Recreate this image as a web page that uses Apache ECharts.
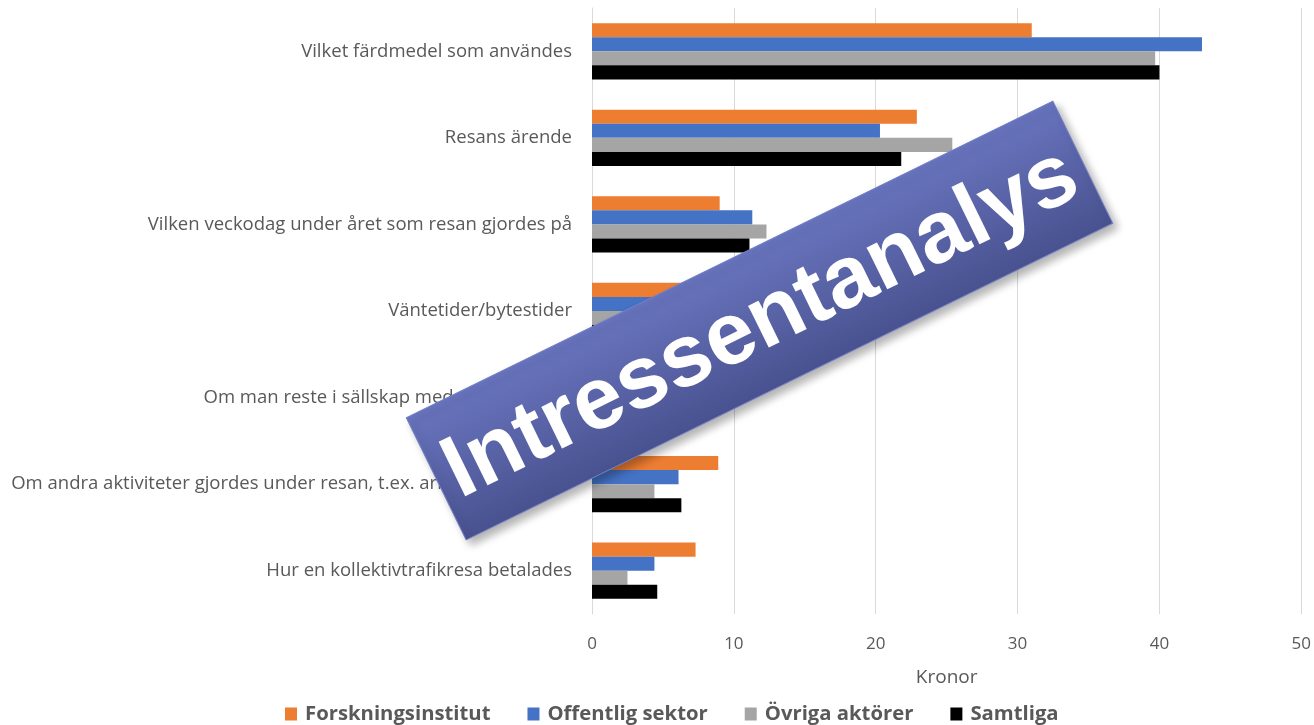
<!DOCTYPE html>
<html>
<head>
<meta charset="utf-8">
<script src="https://cdn.jsdelivr.net/npm/echarts@6/dist/echarts.min.js"></script>
<style>
html,body{margin:0;padding:0;background:#fff;}
#chart{width:1314px;height:725px;}
</style>
</head>
<body>
<div id="chart"></div>
<script>
var categories = ['Vilket färdmedel som användes', 'Resans ärende', 'Vilken veckodag under året som resan gjordes på', 'Väntetider/bytestider', 'Om man reste i sällskap med någon annan', 'Om andra aktiviteter gjordes under resan, t.ex. arbete eller nöjen', 'Hur en kollektivtrafikresa betalades'];
var seriesNames = ['Forskningsinstitut', 'Offentlig sektor', 'Övriga aktörer', 'Samtliga'];
var forskningsinstitut = [31.0, 22.9, 9.0, 8.0, 6.0, 8.9, 7.3];
var offentligSektor = [43.0, 20.3, 11.3, 7.0, 5.0, 6.1, 4.4];
var ovrigaAktorer = [39.7, 25.4, 12.3, 5.0, 4.0, 4.4, 2.5];
var samtliga = [40.0, 21.8, 11.1, 6.5, 5.0, 6.3, 4.6];
var xTicks = [0, 10, 20, 30, 40, 50];
var bannerText = 'Intressentanalys';

var colors = ['#ED7D31', '#4472C4', '#A5A5A5', '#000000'];
var values = [forskningsinstitut, offentligSektor, ovrigaAktorer, samtliga];
var font = 'Open Sans';

var chart = echarts.init(document.getElementById('chart'));
var series = seriesNames.map(function (n, i) {
  return {
    name: n, type: 'bar', data: values[i],
    itemStyle: { color: colors[i] },
    barGap: '0%', barCategoryGap: '35%'
  };
});

var angle = 26.1 * Math.PI / 180;
chart.setOption({
  animation: false,
  color: colors,
  grid: { left: 592, right: 12, top: 8, bottom: 111, containLabel: false },
  xAxis: {
    type: 'value', min: xTicks[0], max: xTicks[xTicks.length - 1], interval: 10,
    name: 'Kronor', nameLocation: 'middle', nameGap: 54,
    nameTextStyle: { color: '#595959', fontSize: 19, fontFamily: font },
    axisLine: { show: false }, axisTick: { show: false },
    axisLabel: { color: '#595959', fontSize: 17, fontFamily: font, margin: 22 },
    splitLine: { lineStyle: { color: '#D9D9D9', width: 1 } }
  },
  yAxis: {
    type: 'category', data: categories, inverse: true,
    axisLine: { lineStyle: { color: '#D9D9D9' } }, axisTick: { show: false },
    axisLabel: { color: '#595959', fontSize: 18.5, fontFamily: font, margin: 20 }
  },
  legend: {
    top: 704, left: 285, padding: 0, itemWidth: 12, itemHeight: 13, itemGap: 37,
    icon: 'rect',
    textStyle: { color: '#595959', fontSize: 20.3, fontWeight: 'bold', fontFamily: font, padding: [0, 0, 0, 3] },
    data: seriesNames
  },
  series: series,
  graphic: [{
    type: 'group',
    x: 759.5, y: 320.5, rotation: angle, z: 100,
    children: [{
      type: 'rect', z: 100,
      shape: { x: -360, y: -68, width: 720, height: 136 },
      style: {
        fill: { type: 'linear', x: 0, y: 0, x2: 0, y2: 1, colorStops: [
          { offset: 0, color: '#6874BE' }, { offset: 1, color: '#49528F' }] },
        stroke: '#7380C8', lineWidth: 1,
        shadowBlur: 8, shadowOffsetX: 5, shadowOffsetY: 5, shadowColor: 'rgba(0,0,0,0.3)'
      }
    }, {
      type: 'text', z: 101,
      x: 0, y: 4,
      style: {
        text: bannerText, fill: '#FFFFFF', fontSize: 88, fontWeight: 'bold',
        fontFamily: 'Liberation Sans', align: 'center', verticalAlign: 'middle'
      }
    }]
  }]
});
</script>
</body>
</html>
